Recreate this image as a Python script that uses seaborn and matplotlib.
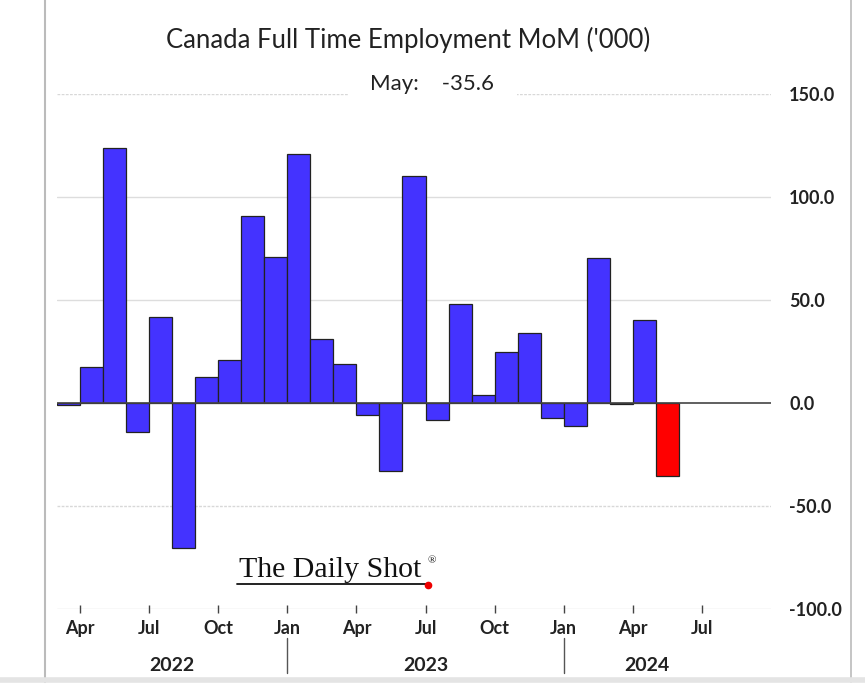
import matplotlib
matplotlib.use("Agg")
import matplotlib.pyplot as plt
from matplotlib.lines import Line2D
import seaborn as sns
import pandas as pd

# monthly change in full time employment, thousands
months = ["2022-03", "2022-04", "2022-05", "2022-06", "2022-07", "2022-08", "2022-09",
          "2022-10", "2022-11", "2022-12", "2023-01", "2023-02", "2023-03", "2023-04",
          "2023-05", "2023-06", "2023-07", "2023-08", "2023-09", "2023-10", "2023-11",
          "2023-12", "2024-01", "2024-02", "2024-03", "2024-04", "2024-05"]
values = [-0.8, 17.5, 124.0, -14.3, 41.7, -70.5, 12.8, 21.0, 91.0, 71.0, 121.0, 31.0,
          19.0, -5.8, -33.0, 110.0, -8.3, 48.0, 4.0, 25.0, 34.0, -7.4, -11.3, 70.5,
          -0.6, 40.3, -35.6]
tick_labels = ["Apr", "Jul", "Oct", "Jan", "Apr", "Jul", "Oct", "Jan", "Apr", "Jul"]
years = ["2022", "2023", "2024"]

df = pd.DataFrame({"month": months, "value": values})
df["latest"] = ["yes" if m == months[-1] else "no" for m in months]

sns.set_style("white")
plt.rcParams["font.family"] = ["Lato", "DejaVu Sans"]

fig = plt.figure(figsize=(8.65, 6.98), dpi=100)
ax = fig.add_axes([57 / 865, 1 - 609 / 698, 714 / 865, 515 / 698])

sns.barplot(data=df, x="month", y="value", hue="latest",
            palette={"no": "#4433ff", "yes": "#ff0000"}, width=1.0, saturation=1,
            edgecolor="#222222", linewidth=0.9, legend=False, ax=ax)

ax.set_xlim(-0.5, 30.5)
ax.set_ylim(-100, 150)

# horizontal grid + zero line
for v in [-100, 50, 100]:
    ax.axhline(v, color="#dddddd", lw=1, zorder=0)
for v in [-50, 150]:
    ax.axhline(v, color="#d8d8d8", lw=1, ls=(0, (2, 1)), zorder=0)
ax.axhline(0, color="#444444", lw=1.2, zorder=3)

# x ticks at start of each quarter
tick_pos = [i - 0.5 for i in range(1, 29, 3)]
ax.set_xticks(tick_pos)
ax.set_xticklabels(tick_labels, fontsize=13, fontweight="bold", color="#222222")
ax.tick_params(axis="x", bottom=True, direction="inout", length=6, width=1,
               color="#444444", pad=5)

ax.yaxis.tick_right()
ax.set_yticks([-100, -50, 0, 50, 100, 150])
ax.set_yticklabels([f"{t:.1f}" for t in [-100, -50, 0, 50, 100, 150]],
                   fontsize=13, fontweight="bold", color="#222222", ha="left")
ax.tick_params(axis="y", length=0, pad=13)
ax.set_xlabel("")
ax.set_ylabel("")
for s in ax.spines.values():
    s.set_visible(False)

# year labels and separators
year_spans = [(-0.5, 9.5), (9.5, 21.5), (21.5, 28.7)]
for yr, (start, end) in zip(years, year_spans):
    ax.text((start + end) / 2, -127.5, yr, ha="center", va="center",
            fontsize=14, fontweight="bold", color="#222222", clip_on=False)
for pos in [9.5, 21.5]:
    ax.plot([pos, pos], [-114, -131], color="#555555", lw=1, clip_on=False)

# title and latest value
fig.text(408 / 865, 1 - 40 / 698, "Canada Full Time Employment MoM ('000)",
         ha="center", va="center", fontsize=18.5, color="#222222")
ax.text(15.8, 155, "May:    -35.6", ha="center", va="center", fontsize=16,
        color="#222222", bbox=dict(facecolor="white", edgecolor="none", pad=16))

# watermark
fig.text(330 / 865, 1 - 570 / 698, "The Daily Shot", ha="center", va="center",
         fontsize=21.5, family=["Liberation Serif", "DejaVu Serif"], color="#111111")
fig.text(432 / 865, 1 - 561 / 698, "®", ha="center", va="center", fontsize=8,
         family=["Liberation Serif", "DejaVu Serif"], color="#111111")
fig.add_artist(Line2D([237 / 865, 428 / 865], [1 - 584 / 698, 1 - 584 / 698],
                      transform=fig.transFigure, color="#111111", lw=1.3))
fig.add_artist(Line2D([428 / 865], [1 - 585 / 698], transform=fig.transFigure,
                      marker="o", color="#ee0000", markersize=4.5))

# screenshot frame
fig.add_artist(Line2D([44.5 / 865, 44.5 / 865], [1 - 682 / 698, 1.0],
                      transform=fig.transFigure, color="#bbbbbb", lw=1.5))
fig.add_artist(Line2D([850.5 / 865, 850.5 / 865], [1 - 682 / 698, 1.0],
                      transform=fig.transFigure, color="#bbbbbb", lw=1.2))
fig.add_artist(Line2D([0, 1], [1 - 680 / 698, 1 - 680 / 698], transform=fig.transFigure,
                      color="#e4e4e4", lw=4))

fig.savefig("out.png", dpi=100)
